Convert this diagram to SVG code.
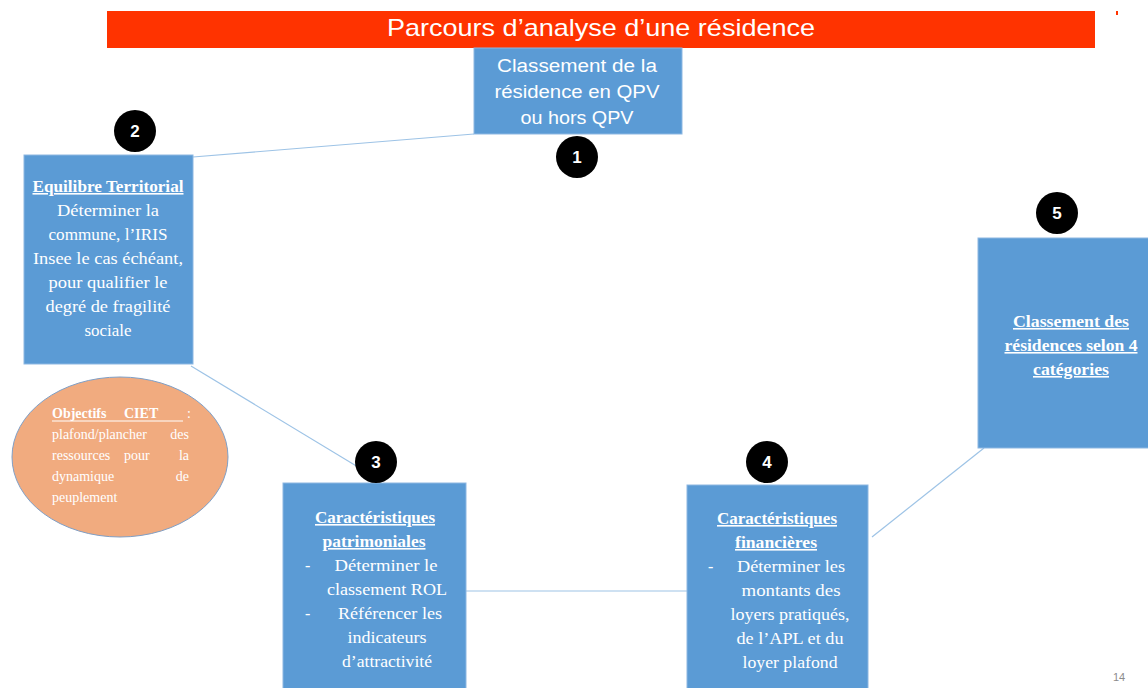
<svg xmlns="http://www.w3.org/2000/svg" width="1148" height="688" viewBox="0 0 1148 688">
<style>
.box{fill:#5B9BD5;stroke:#8DB7E2;stroke-width:1}
.num{fill:#000}
.numt{fill:#fff;font-family:"Liberation Sans",Arial,sans-serif;font-weight:bold;font-size:17px;text-anchor:middle}
.sans{fill:#fff;font-family:"Liberation Sans",Arial,sans-serif}
.ser{fill:#fff;font-family:"Liberation Serif","Times New Roman",serif;font-size:16px}
.hd{font-weight:bold;text-decoration:underline}
.el{fill:#fff;font-family:"Liberation Serif","Times New Roman",serif;font-size:14px}
.r{text-anchor:end}
.conn{stroke:#9DC3E6;stroke-width:1.2;fill:none}
</style>
<rect width="1148" height="688" fill="#fff"/>
<g id="title">
<rect x="107" y="11" width="988" height="37" fill="#FF3300"/>
<text class="sans" x="601" y="36" font-size="24" text-anchor="middle" textLength="428" lengthAdjust="spacingAndGlyphs">Parcours d’analyse d’une résidence</text>
</g>
<rect x="1116" y="11" width="2" height="4" fill="#FF3300"/>
<g id="connectors">
<line class="conn" x1="193" y1="157" x2="474" y2="134"/>
<line class="conn" x1="191" y1="366" x2="358" y2="467"/>
<line class="conn" x1="466" y1="591" x2="687" y2="591"/>
<line class="conn" x1="872" y1="537" x2="984" y2="448"/>
</g>
<g id="node1">
<rect class="box" x="474" y="48" width="208" height="86"/>
<text class="sans" x="577" y="72" font-size="18" text-anchor="middle" textLength="160" lengthAdjust="spacingAndGlyphs">Classement de la</text>
<text class="sans" x="577" y="98" font-size="18" text-anchor="middle" textLength="165" lengthAdjust="spacingAndGlyphs">résidence en QPV</text>
<text class="sans" x="577" y="124" font-size="18" text-anchor="middle" textLength="113" lengthAdjust="spacingAndGlyphs">ou hors QPV</text>
</g>
<g id="badge1"><circle class="num" cx="577" cy="157" r="21"/><text class="numt" x="577" y="163">1</text></g>
<g id="node2">
<rect class="box" x="24" y="155" width="169" height="209"/>
<text class="ser hd" x="108" y="192" text-anchor="middle" textLength="151" lengthAdjust="spacingAndGlyphs">Equilibre Territorial</text>
<text class="ser" x="108" y="216" text-anchor="middle" textLength="102" lengthAdjust="spacingAndGlyphs">Déterminer la</text>
<text class="ser" x="108" y="240" text-anchor="middle" textLength="119" lengthAdjust="spacingAndGlyphs">commune, l’IRIS</text>
<text class="ser" x="108" y="264" text-anchor="middle" textLength="150" lengthAdjust="spacingAndGlyphs">Insee le cas échéant,</text>
<text class="ser" x="108" y="288" text-anchor="middle" textLength="119" lengthAdjust="spacingAndGlyphs">pour qualifier le</text>
<text class="ser" x="108" y="312" text-anchor="middle" textLength="125" lengthAdjust="spacingAndGlyphs">degré de fragilité</text>
<text class="ser" x="108" y="336" text-anchor="middle" textLength="47" lengthAdjust="spacingAndGlyphs">sociale</text>
</g>
<g id="badge2"><circle class="num" cx="135" cy="131" r="21"/><text class="numt" x="135" y="137">2</text></g>
<g id="objectifs">
<ellipse cx="120" cy="457" rx="108" ry="80" fill="#F1AB7F" stroke="#7F9FC6" stroke-width="1"/>
<text class="el" x="52" y="418" font-weight="bold">Objectifs</text>
<text class="el" x="124" y="418" font-weight="bold">CIET</text>
<text class="el r" x="191" y="418">:</text>
<line x1="52" y1="421" x2="183" y2="421" stroke="#fff" stroke-width="1"/>
<text class="el" x="52" y="439">plafond/plancher</text>
<text class="el r" x="189" y="439">des</text>
<text class="el" x="52" y="460">ressources</text>
<text class="el" x="124" y="460">pour</text>
<text class="el r" x="189" y="460">la</text>
<text class="el" x="52" y="481">dynamique</text>
<text class="el r" x="189" y="481">de</text>
<text class="el" x="52" y="502">peuplement</text>
</g>
<g id="node3">
<rect class="box" x="283" y="483" width="183" height="210"/>
<text class="ser hd" x="375" y="523" text-anchor="middle" textLength="120" lengthAdjust="spacingAndGlyphs">Caractéristiques</text>
<text class="ser hd" x="374" y="547" text-anchor="middle" textLength="103" lengthAdjust="spacingAndGlyphs">patrimoniales</text>
<text class="ser" x="305" y="571">-</text>
<text class="ser" x="386" y="571" text-anchor="middle" textLength="103" lengthAdjust="spacingAndGlyphs">Déterminer le</text>
<text class="ser" x="387" y="595" text-anchor="middle" textLength="120" lengthAdjust="spacingAndGlyphs">classement ROL</text>
<text class="ser" x="305" y="619">-</text>
<text class="ser" x="390" y="619" text-anchor="middle" textLength="104" lengthAdjust="spacingAndGlyphs">Référencer les</text>
<text class="ser" x="387" y="643" text-anchor="middle" textLength="79" lengthAdjust="spacingAndGlyphs">indicateurs</text>
<text class="ser" x="387" y="667" text-anchor="middle" textLength="90" lengthAdjust="spacingAndGlyphs">d’attractivité</text>
</g>
<g id="badge3"><circle class="num" cx="376" cy="462" r="21"/><text class="numt" x="376" y="468">3</text></g>
<g id="node4">
<rect class="box" x="687" y="485" width="181" height="208"/>
<text class="ser hd" x="777" y="524" text-anchor="middle" textLength="120" lengthAdjust="spacingAndGlyphs">Caractéristiques</text>
<text class="ser hd" x="776" y="548" text-anchor="middle" textLength="82" lengthAdjust="spacingAndGlyphs">financières</text>
<text class="ser" x="708" y="572">-</text>
<text class="ser" x="791" y="572" text-anchor="middle" textLength="108" lengthAdjust="spacingAndGlyphs">Déterminer les</text>
<text class="ser" x="791" y="596" text-anchor="middle" textLength="99" lengthAdjust="spacingAndGlyphs">montants des</text>
<text class="ser" x="790" y="620" text-anchor="middle" textLength="119" lengthAdjust="spacingAndGlyphs">loyers pratiqués,</text>
<text class="ser" x="790" y="644" text-anchor="middle" textLength="107" lengthAdjust="spacingAndGlyphs">de l’APL et du</text>
<text class="ser" x="790" y="668" text-anchor="middle" textLength="95" lengthAdjust="spacingAndGlyphs">loyer plafond</text>
</g>
<g id="badge4"><circle class="num" cx="767" cy="462" r="21"/><text class="numt" x="767" y="468">4</text></g>
<g id="node5">
<rect class="box" x="978" y="238" width="175" height="210"/>
<text class="ser hd" x="1071" y="327" text-anchor="middle" textLength="116" lengthAdjust="spacingAndGlyphs">Classement des</text>
<text class="ser hd" x="1071" y="351" text-anchor="middle" textLength="133" lengthAdjust="spacingAndGlyphs">résidences selon 4</text>
<text class="ser hd" x="1071" y="375" text-anchor="middle" textLength="76" lengthAdjust="spacingAndGlyphs">catégories</text>
</g>
<g id="badge5"><circle class="num" cx="1057" cy="213" r="21"/><text class="numt" x="1057" y="219">5</text></g>
<text x="1119" y="681" font-family="Liberation Sans, Arial, sans-serif" font-size="11" fill="#8C8C8C" text-anchor="middle">14</text>
</svg>
